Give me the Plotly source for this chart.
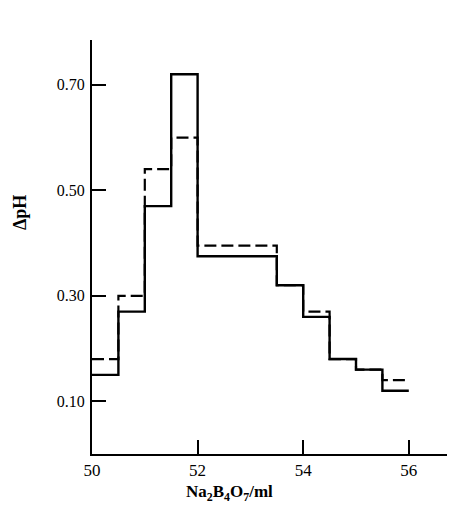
import plotly.graph_objects as go

# Step edges (Na2B4O7 volume, ml)
edges = [50, 50.5, 51, 51.5, 52, 53.5, 54, 54.5, 55, 55.5, 56]
# ΔpH per interval
solid_dph = [0.15, 0.27, 0.47, 0.72, 0.375, 0.32, 0.26, 0.18, 0.16, 0.12]
dashed_dph = [0.18, 0.30, 0.54, 0.60, 0.395, 0.32, 0.27, 0.18, 0.16, 0.14]

x_ticks = [50, 52, 54, 56]
y_ticks = [0.10, 0.30, 0.50, 0.70]
y_tick_text = ["0.10", "0.30", "0.50", "0.70"]

serif = "Liberation Serif, Times New Roman, serif"

fig = go.Figure()
fig.add_trace(go.Scatter(
    x=edges, y=dashed_dph + [dashed_dph[-1]], mode="lines", line_shape="hv",
    line=dict(color="black", width=2.2, dash="12px,5px"), showlegend=False))
fig.add_trace(go.Scatter(
    x=edges, y=solid_dph + [solid_dph[-1]], mode="lines", line_shape="hv",
    line=dict(color="black", width=2.4), showlegend=False))

fig.update_layout(
    width=447, height=508,
    margin=dict(l=84, r=0, t=32, b=62, autoexpand=False),
    paper_bgcolor="white", plot_bgcolor="white",
    font=dict(family=serif, color="black", size=15),
    xaxis=dict(range=[50, 56.875], tickvals=x_ticks, ticktext=[str(v) for v in x_ticks],
               ticks="inside", ticklen=14, tickwidth=2, tickcolor="black",
               showline=True, linecolor="black", linewidth=2, showgrid=False,
               zeroline=False, tickfont=dict(size=17, family=serif), automargin=False),
    yaxis=dict(range=[0, 0.785], tickvals=y_ticks, ticktext=y_tick_text,
               ticks="inside", ticklen=14, tickwidth=2, tickcolor="black",
               showline=True, linecolor="black", linewidth=2, showgrid=False,
               zeroline=False, tickfont=dict(size=16, family=serif),
               ticklabelstandoff=2, automargin=False),
    annotations=[
        dict(text="<b>Na<sub>2</sub>B<sub>4</sub>O<sub>7</sub>/ml</b>", xref="paper", yref="paper",
             x=(229 - 92) / 363, y=-(493 - 454) / 414, showarrow=False,
             font=dict(size=17, family=serif), xanchor="center", yanchor="middle"),
        dict(text="<b>ΔpH</b>", xref="paper", yref="paper",
             x=-(92 - 20) / 363, y=(454 - 213) / 414, showarrow=False, textangle=-90,
             font=dict(size=18, family=serif), xanchor="center", yanchor="middle"),
    ],
)

fig.write_html("out.html")
